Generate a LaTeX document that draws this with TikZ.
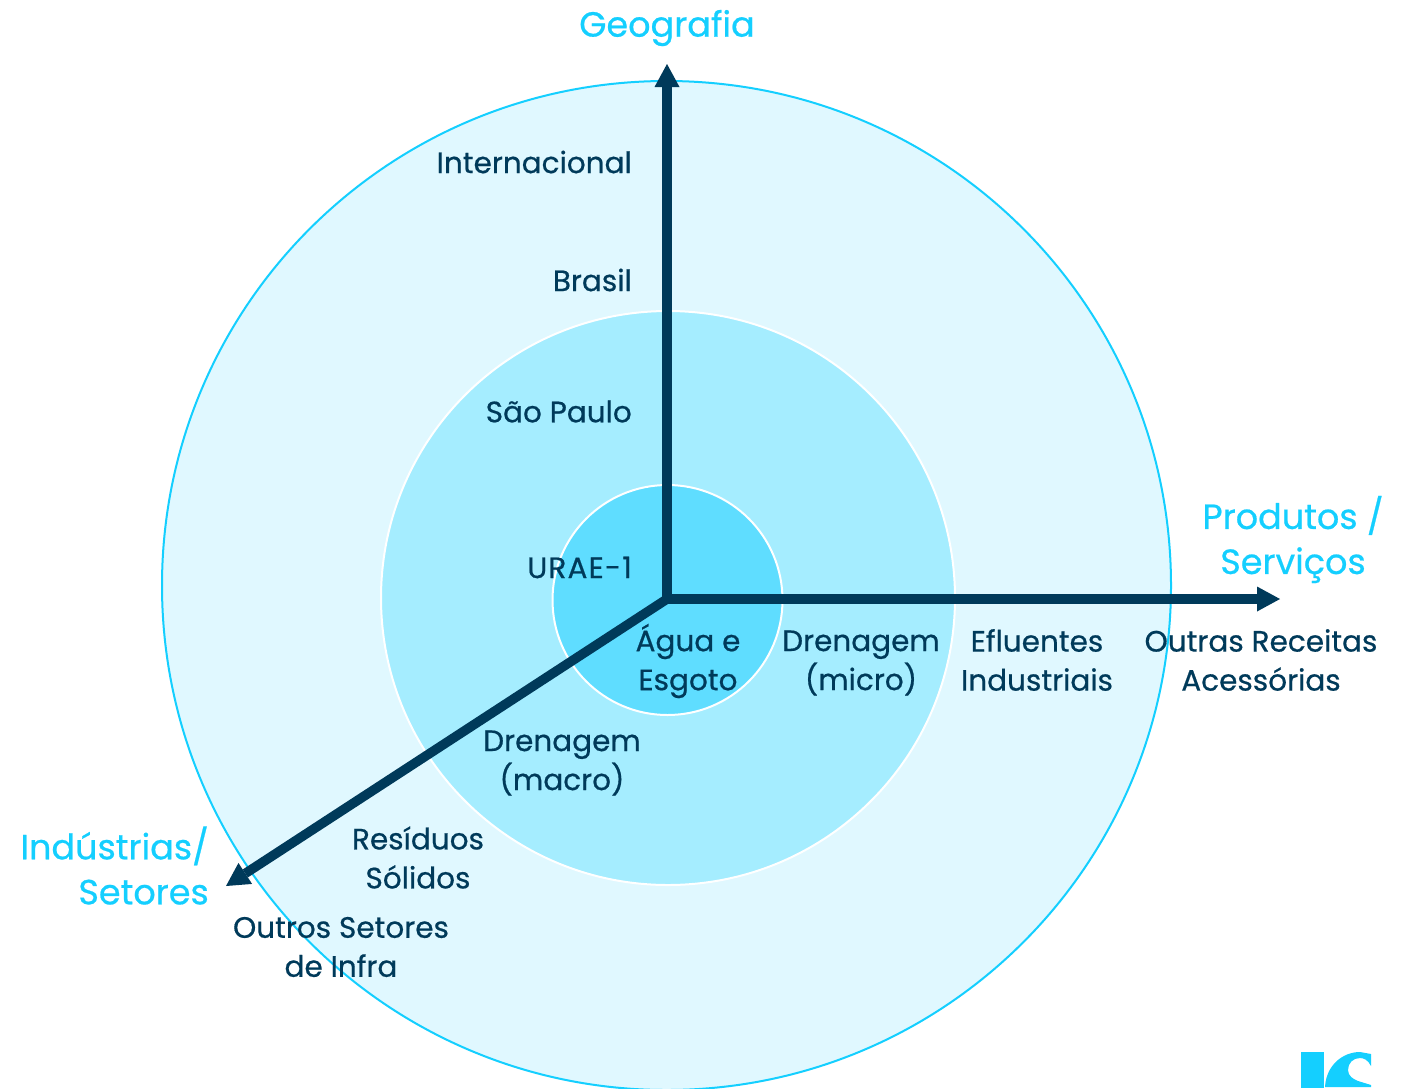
\documentclass[tikz,border=0pt]{standalone}
\usepackage{fontspec}
\setmainfont{Poppins}[FakeBold=0.6]
\usetikzlibrary{arrows.meta}
\definecolor{cyanmain}{HTML}{14CFFF}
\definecolor{darkblue}{HTML}{003A5A}
\definecolor{ringa}{HTML}{E0F8FF}
\definecolor{ringb}{HTML}{A5EDFF}
\definecolor{ringc}{HTML}{5FDDFF}
\tikzset{
  axisline/.style={draw=darkblue,line width=9.5pt,-{Triangle[length=23pt,width=25pt,line width=0pt]}},
  lbl/.style={text=darkblue,font=\fontsize{29.5}{39}\selectfont,align=center,inner sep=0pt},
  lblr/.style={lbl,anchor=east},
  axistitle/.style={text=cyanmain,font=\fontsize{35}{45}\selectfont,align=center,inner sep=0pt},
  axistitler/.style={axistitle,align=right,anchor=east}
}
\begin{document}
\begin{tikzpicture}[x=1pt,y=-1pt]
\useasboundingbox (0,0) rectangle (1405,1088);
\clip (0,0) rectangle (1405,1088);
\fill[white] (0,0) rectangle (1405,1088);
\draw[cyanmain,fill=ringa,line width=2pt] (666.5,585.5) circle[radius=504.5];
\draw[white,fill=ringb,line width=2pt] (668,598) circle[radius=287];
\draw[white,fill=ringc,line width=2pt] (667.5,600) circle[radius=115];
\coordinate (origin) at (667,599);
\coordinate (top) at (667,64);
\coordinate (right) at (1280,599);
\coordinate (sw) at (226,886);
\draw[axisline,shorten <=-4.5pt] (origin) -- (top);
\draw[axisline,shorten <=-4.5pt] (origin) -- (right);
\draw[axisline,shorten <=-3pt] (origin) -- (sw);
\node[axistitle] (geo) at (667,28) {Geografia};
\node[axistitle] (prod) at (1293,539.5) {Produtos /\\Serviços};
\node[axistitler] (ind) at (209,865.5) {Indústrias/\\Setores};
\node[lblr] (int) at (632,162) {Internacional};
\node[lblr] (bra) at (632,280) {Brasil};
\node[lblr] (sp) at (632,411.5) {São Paulo};
\node[lblr] (urae) at (632,567.5) {\addfontfeature{LetterSpace=4}URAE-1};
\node[lbl] (agua) at (688,661) {Água e\\Esgoto};
\node[lbl] (dmic) at (861,663) {Drenagem\\(micro)};
\node[lbl] (eflu) at (1037,660) {Efluentes\\Industriais};
\node[lbl] (orec) at (1261,660) {Outras Receitas\\Acessórias};
\node[lbl] (dmac) at (562,763) {Drenagem\\(macro)};
\node[lbl] (resi) at (418,857.5) {Resíduos\\Sólidos};
\node[lbl] (ouset) at (341,947) {Outros Setores\\de Infra};
\fill[cyanmain] (1301,1052) rectangle (1324,1088);
\fill[cyanmain] (1325,1087) .. controls (1326,1066) and (1342,1052) .. (1360,1052)
  -- (1371,1054) -- (1371,1066) .. controls (1368,1060) and (1364,1058) .. (1360,1058)
  .. controls (1353,1058) and (1348,1063) .. (1348,1070)
  .. controls (1348,1076) and (1353,1079) .. (1358,1081)
  -- (1371,1085) -- (1371,1087) -- cycle;
\end{tikzpicture}
\end{document}
